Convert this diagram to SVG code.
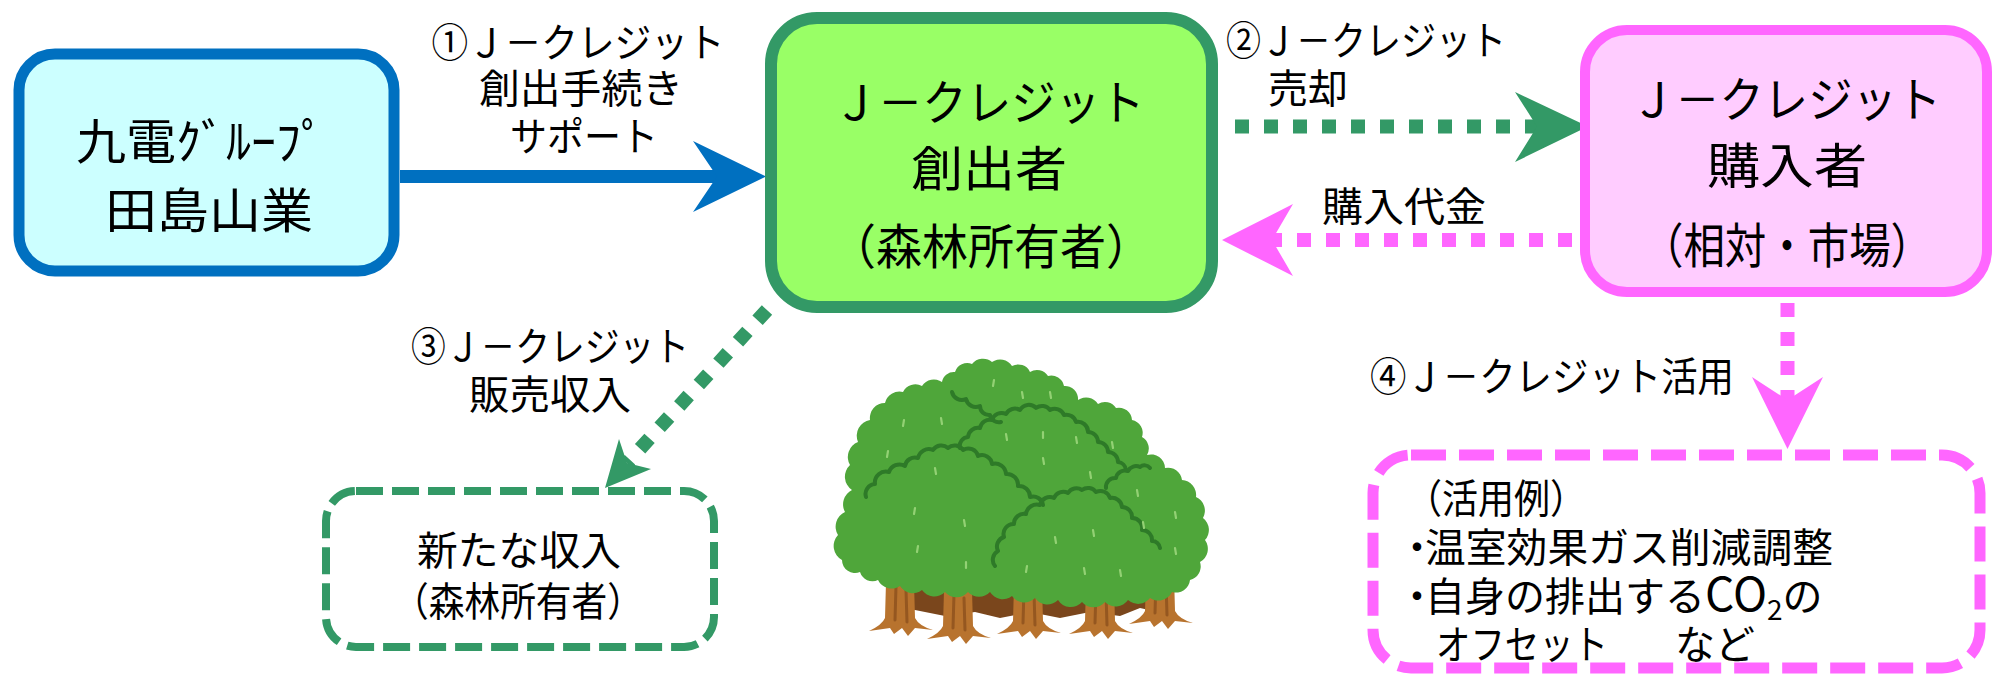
<svg xmlns="http://www.w3.org/2000/svg" width="1996" height="677" viewBox="0 0 1996 677">
  <defs>
    <style>
      .t { font-family: "Noto Sans CJK JP", "Noto Sans", sans-serif; fill: #000; }
      .big { font-size: 48px; text-anchor: middle; }
      .mid { font-size: 40px; text-anchor: middle; }
      .lft { font-size: 40px; }
      .box-blue { fill: #ccffff; stroke: #0070c0; stroke-width: 11; }
      .box-green { fill: #99ff66; stroke: #339966; stroke-width: 12; }
      .box-pink { fill: #ffccff; stroke: #ff66ff; stroke-width: 10; }
      .dash-green { fill: #ffffff; stroke: #339966; stroke-width: 8; stroke-dasharray: 27 9; }
      .dash-pink { fill: #ffffff; stroke: #ff66ff; stroke-width: 11; stroke-dasharray: 35 13; }
      .dot-green { fill: none; stroke: #339966; stroke-width: 14; stroke-dasharray: 14 15; }
      .dot-pink { fill: none; stroke: #ff66ff; stroke-width: 14; stroke-dasharray: 14 15; }
      .leaf { fill: #4fa63a; }
      .fold { fill: none; stroke: #2e7a28; stroke-width: 4; stroke-linecap: round; stroke-linejoin: round; }
      .shine { fill: none; stroke: #93d174; stroke-width: 2.2; stroke-linecap: round; }
      .bark { fill: #b8732e; }
      .bark-dark { fill: #7a461c; }
      .bark-line { fill: none; stroke: #955720; stroke-width: 3; stroke-linecap: round; }
    </style>
    <g id="trunk">
      <path class="bark" d="M-14,0 L14,0 L15,36 Q19,44 33,48 L15,46 L8,54 L2,46 L-6,52 L-10,46 L-31,49 Q-18,43 -15,36 Z"/>
      <path class="bark-line" d="M-4,4 L-5,38 M6,8 L7,40"/>
    </g>
  </defs>

  <!-- connectors -->
  <g id="connectors">
    <!-- ① support: solid blue arrow -->
    <line x1="400" y1="176.5" x2="720" y2="176.5" stroke="#0070c0" stroke-width="13"/>
    <polygon points="766,176.5 693,141 717,176.5 693,212" fill="#0070c0"/>

    <!-- ② sale: dotted green arrow -->
    <line class="dot-green" x1="1235" y1="126.5" x2="1540" y2="126.5"/>
    <polygon points="1588,126.5 1515,92 1537,126.5 1515,162" fill="#339966"/>

    <!-- payment: dotted pink arrow -->
    <line class="dot-pink" x1="1572" y1="240" x2="1266" y2="240"/>
    <polygon points="1222,240 1293,204 1272,240 1293,276" fill="#ff66ff"/>

    <!-- ③ revenue: diagonal dotted green arrow -->
    <line class="dot-green" x1="767" y1="310" x2="627" y2="463"/>
    <polygon points="605,488 619,439 627,463 651,469" fill="#339966"/>

    <!-- ④ use: vertical dotted pink arrow -->
    <line class="dot-pink" x1="1787.5" y1="303" x2="1787.5" y2="402"/>
    <polygon points="1787.5,449 1752,377 1787.5,400 1823,377" fill="#ff66ff"/>
  </g>

  <!-- arrow labels -->
  <g id="labels" class="t">
    <text class="mid" x="578" y="57" textLength="293" lengthAdjust="spacingAndGlyphs">①Ｊ－クレジット</text>
    <text class="mid" x="581" y="103" textLength="204" lengthAdjust="spacingAndGlyphs">創出手続き</text>
    <text class="mid" x="584" y="151" textLength="148" lengthAdjust="spacingAndGlyphs">サポート</text>

    <text class="mid" x="1366" y="55" textLength="280" lengthAdjust="spacingAndGlyphs">②Ｊ－クレジット</text>
    <text class="mid" x="1308" y="103" textLength="80" lengthAdjust="spacingAndGlyphs">売却</text>

    <text class="mid" x="1404" y="221" textLength="164" lengthAdjust="spacingAndGlyphs">購入代金</text>

    <text class="mid" x="550" y="361" textLength="278" lengthAdjust="spacingAndGlyphs">③Ｊ－クレジット</text>
    <text class="mid" x="550" y="409" textLength="162" lengthAdjust="spacingAndGlyphs">販売収入</text>

    <text class="mid" x="1552" y="391" textLength="364" lengthAdjust="spacingAndGlyphs">④Ｊ－クレジット活用</text>
  </g>

  <!-- supporting company -->
  <g id="node-support">
    <rect class="box-blue" x="19" y="54" width="375" height="217" rx="36"/>
    <text class="t big" x="201" y="159" font-size="56" textLength="250" lengthAdjust="spacingAndGlyphs">九電ｸﾞﾙｰﾌﾟ</text>
    <text class="t big" x="209" y="228" font-size="52" textLength="208" lengthAdjust="spacingAndGlyphs">田島山業</text>
  </g>

  <!-- credit creator -->
  <g id="node-creator">
    <rect class="box-green" x="771" y="18" width="441" height="289" rx="46"/>
    <text class="t big" x="989" y="120" textLength="311" lengthAdjust="spacingAndGlyphs">Ｊ－クレジット</text>
    <text class="t big" x="989" y="186" font-size="50" textLength="156" lengthAdjust="spacingAndGlyphs">創出者</text>
    <text class="t big" x="991" y="264" textLength="322" lengthAdjust="spacingAndGlyphs">（森林所有者）</text>
  </g>

  <!-- credit buyer -->
  <g id="node-buyer">
    <rect class="box-pink" x="1585" y="30" width="402" height="262" rx="42"/>
    <text class="t big" x="1786" y="117" textLength="310" lengthAdjust="spacingAndGlyphs">Ｊ－クレジット</text>
    <text class="t big" x="1787" y="183" textLength="160" lengthAdjust="spacingAndGlyphs">購入者</text>
    <text class="t big" x="1787" y="263" textLength="290" lengthAdjust="spacingAndGlyphs">（相対・市場）</text>
  </g>

  <!-- new income -->
  <g id="node-income">
    <rect class="dash-green" x="326" y="491" width="388" height="156" rx="30"/>
    <text class="t mid" x="519" y="565" textLength="204" lengthAdjust="spacingAndGlyphs">新たな収入</text>
    <text class="t mid" x="518" y="616" textLength="250" lengthAdjust="spacingAndGlyphs">（森林所有者）</text>
  </g>

  <!-- usage examples -->
  <g id="node-usage">
    <rect class="dash-pink" x="1373" y="455" width="607" height="213" rx="38"/>
    <text class="t lft" x="1406" y="513" textLength="180" lengthAdjust="spacingAndGlyphs">（活用例）</text>
    <text class="t lft" y="562"><tspan x="1397">・</tspan><tspan x="1425" textLength="408" lengthAdjust="spacingAndGlyphs">温室効果ガス削減調整</tspan></text>
    <text class="t lft" y="611"><tspan x="1397">・</tspan><tspan x="1425" textLength="280" lengthAdjust="spacingAndGlyphs">自身の排出する</tspan><tspan font-size="46">CO</tspan><tspan font-size="28" dy="9">2</tspan><tspan dy="-9">の</tspan></text>
    <text class="t lft" y="659"><tspan x="1436" textLength="172" lengthAdjust="spacingAndGlyphs">オフセット</tspan><tspan x="1675">など</tspan></text>
  </g>

  <!-- forest illustration -->
  <g id="forest">
    <!-- shadowed ground between trunks -->
    <path class="bark-dark" d="M884,575 L1174,575 L1172,606 L1158,612 L1140,608 L1120,616 L1090,612 L1060,618 L1030,612 L1000,618 L975,612 L945,616 L915,610 L890,612 Z"/>
    <use href="#trunk" x="900" y="582"/>
    <use href="#trunk" x="958" y="590"/>
    <use href="#trunk" x="1028" y="585"/>
    <use href="#trunk" x="1100" y="585"/>
    <use href="#trunk" x="1160" y="575"/>

    <!-- canopy silhouette -->
    <path class="leaf" d="M842,560 A16,16 0 0 1 838,535 A16,16 0 0 1 845,512 A16,16 0 0 1 852,490 A16,16 0 0 1 850,465 A16,16 0 0 1 858,442 A16,16 0 0 1 870,420 A15,15 0 0 1 885,403 A15,15 0 0 1 903,392 A14,14 0 0 1 922,386 A14,14 0 0 1 942,382 A12,12 0 0 1 955,372 A13,13 0 0 1 972,364 A14,14 0 0 1 992,362 A14,14 0 0 1 1012,366 A13,13 0 0 1 1030,372 A13,13 0 0 1 1048,376 A13,13 0 0 1 1064,386 A13,13 0 0 1 1078,400 A14,14 0 0 1 1098,404 A13,13 0 0 1 1116,408 A13,13 0 0 1 1132,420 A13,13 0 0 1 1142,437 A13,13 0 0 1 1147,455 A14,14 0 0 1 1165,468 A14,14 0 0 1 1182,480 A15,15 0 0 1 1196,497 A15,15 0 0 1 1203,518 A15,15 0 0 1 1205,540 A15,15 0 0 1 1200,562 A14,14 0 0 1 1190,580 A14,14 0 0 1 1172,592 A15,15 0 0 1 1150,598 A15,15 0 0 1 1128,600 A15,15 0 0 1 1105,602 A15,15 0 0 1 1082,602 A15,15 0 0 1 1058,600 A15,15 0 0 1 1035,598 A15,15 0 0 1 1012,596 A15,15 0 0 1 990,592 A15,15 0 0 1 968,592 A15,15 0 0 1 945,592 A15,15 0 0 1 922,590 A15,15 0 0 1 900,586 A15,15 0 0 1 878,580 A13,13 0 0 1 860,572 A13,13 0 0 1 842,560 Z"/>

    <!-- folds between crowns -->
    <path class="fold" d="M952,392 A10,10 0 0 0 966,399 A10,10 0 0 0 980,406 A9,9 0 0 0 990,415 A9,9 0 0 0 1001,422"/>
    <path class="fold" d="M866,497 A10,10 0 0 1 875,484 A11,11 0 0 1 889,472 A11,11 0 0 1 905,466 A10,10 0 0 1 918,458 A11,11 0 0 1 933,450 A10,10 0 0 1 948,448 A10,10 0 0 1 963,450 A10,10 0 0 1 978,456 A10,10 0 0 1 992,464 A11,11 0 0 1 1006,474 A11,11 0 0 1 1018,486 A11,11 0 0 1 1030,497 A10,10 0 0 1 1043,505"/>
    <path class="fold" d="M960,448 A9,9 0 0 1 968,437 A10,10 0 0 1 980,428 A10,10 0 0 1 992,420 A10,10 0 0 1 1006,414 A10,10 0 0 1 1020,410 A10,10 0 0 1 1036,408 A10,10 0 0 1 1050,410 A10,10 0 0 1 1064,415 A10,10 0 0 1 1076,422 A10,10 0 0 1 1088,432 A10,10 0 0 1 1098,442 A10,10 0 0 1 1108,452 A10,10 0 0 1 1118,462 A9,9 0 0 1 1126,470"/>
    <path class="fold" d="M995,566 A10,10 0 0 1 998,551 A10,10 0 0 1 1004,537 A10,10 0 0 1 1014,524 A10,10 0 0 1 1026,514 A11,11 0 0 1 1040,505 A10,10 0 0 1 1054,498 A10,10 0 0 1 1068,493 A10,10 0 0 1 1082,490 A10,10 0 0 1 1096,492 A10,10 0 0 1 1110,498 A10,10 0 0 1 1122,507 A10,10 0 0 1 1132,518 A10,10 0 0 1 1142,530 A10,10 0 0 1 1152,541 A8,8 0 0 1 1160,548"/>
    <path class="fold" d="M1106,488 A9,9 0 0 1 1116,478 A9,9 0 0 1 1128,471 A9,9 0 0 1 1140,467 A7,7 0 0 1 1150,468"/>

    <!-- leaf highlights -->
    <path class="shine" d="M994,380 l-1,6 M1022,392 l1,6 M1050,392 l1,6 M904,420 l-1,6 M941,418 l1,6 M888,451 l-1,6 M1006,434 l1,6 M1043,432 l0,6 M1043,458 l1,6 M1076,437 l1,6 M1090,472 l1,6 M1112,442 l1,6 M1137,490 l1,6 M1175,512 l1,6 M1143,522 l1,6 M915,508 l-1,6 M964,520 l1,6 M918,546 l-1,6 M966,562 l0,6 M1055,537 l1,6 M1093,530 l1,6 M1027,566 l-1,6 M1120,570 l1,6 M1084,568 l1,6 M1175,548 l1,6 M935,468 l1,6"/>
  </g>
</svg>
